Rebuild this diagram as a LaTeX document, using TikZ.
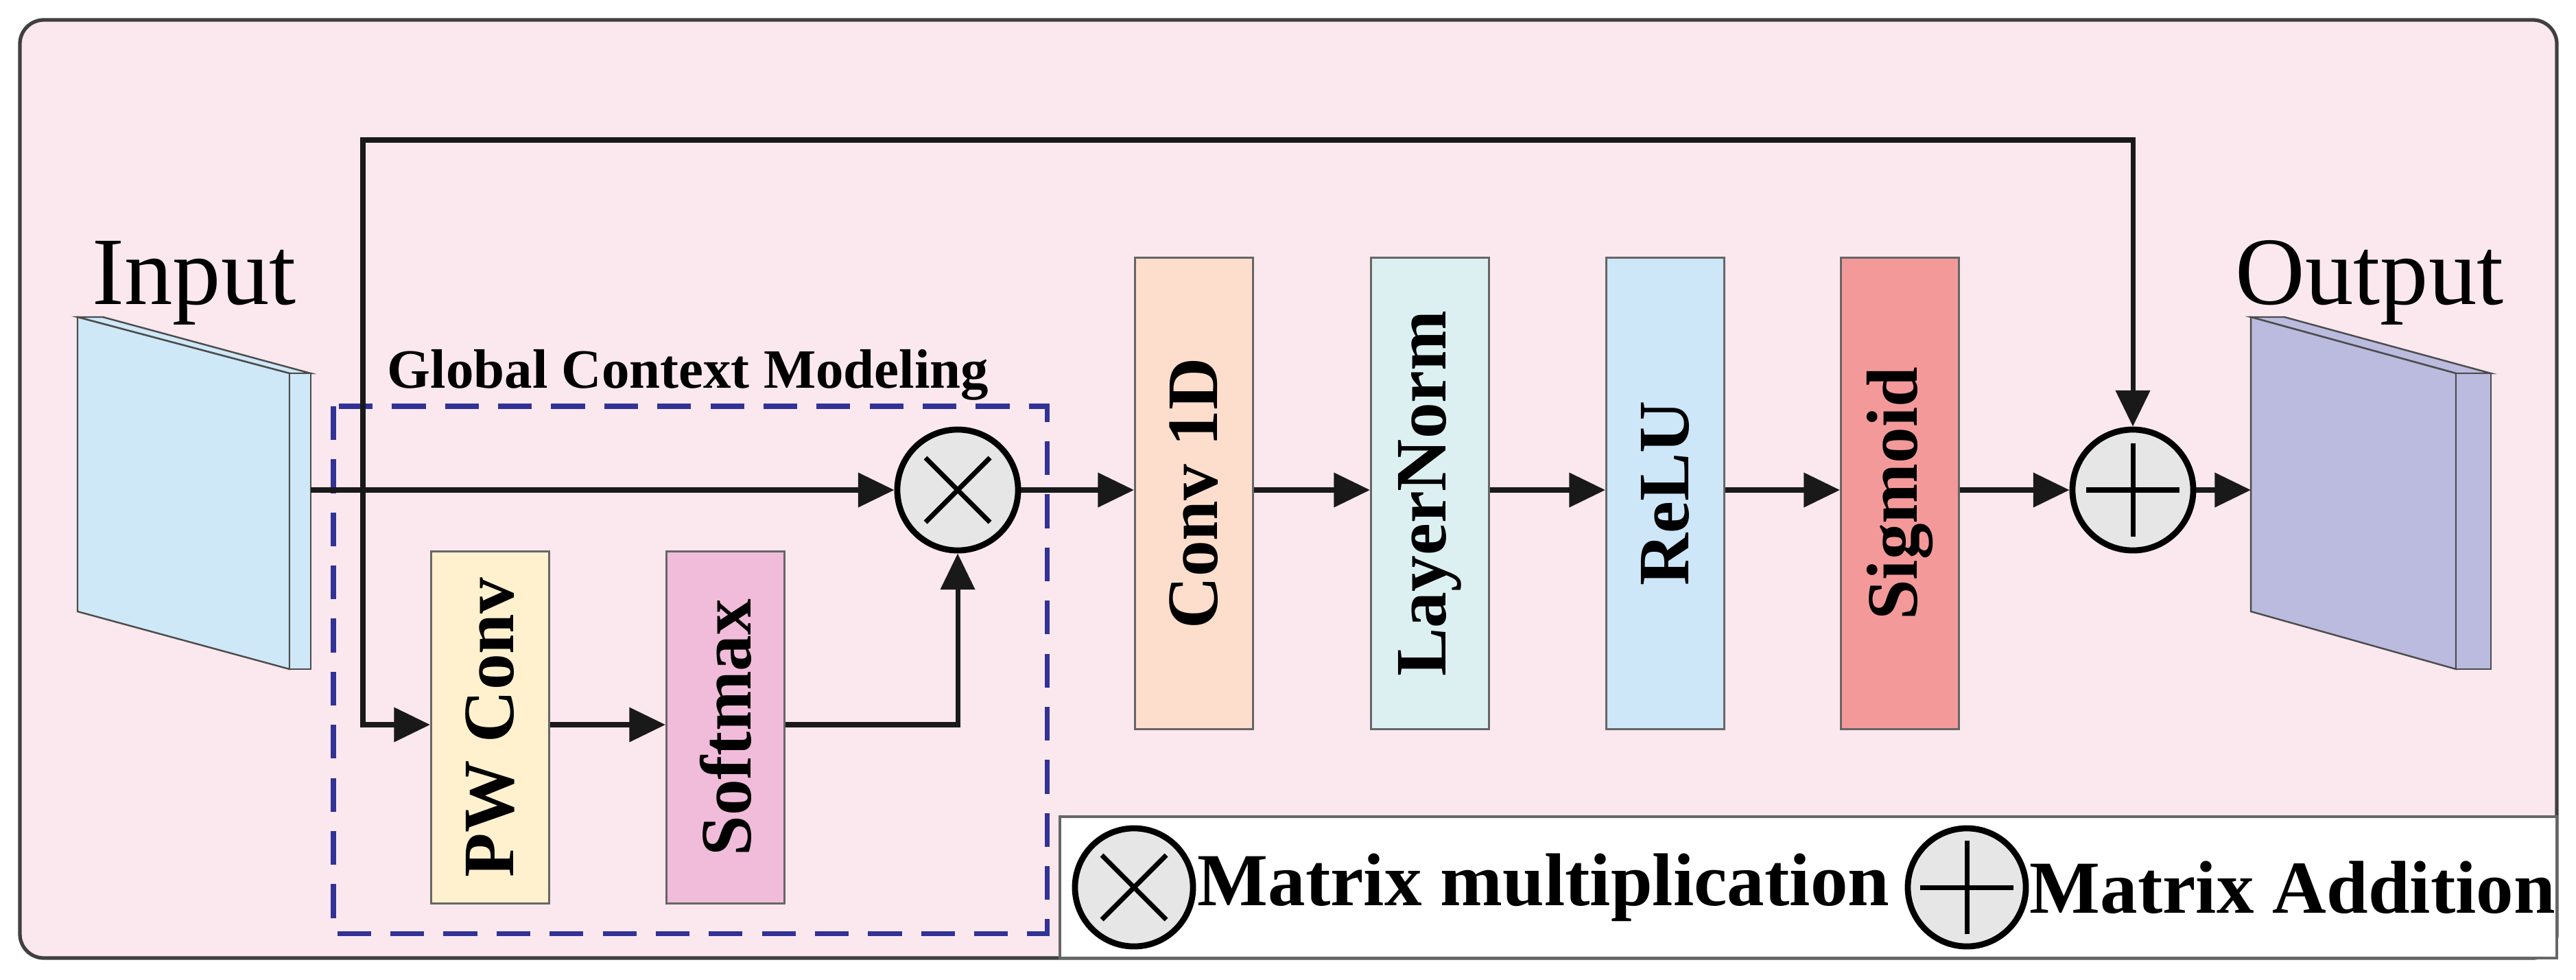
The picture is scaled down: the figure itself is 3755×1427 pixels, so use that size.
\documentclass[tikz,border=0pt]{standalone}
\usepackage{fontspec}
\setmainfont{Liberation Serif}
\usetikzlibrary{arrows.meta,calc}
\definecolor{bgpink}{RGB}{250,232,238}
\definecolor{inblue}{RGB}{207,232,247}
\definecolor{outblue}{RGB}{186,187,222}
\definecolor{dashblue}{RGB}{50,50,150}
\definecolor{cyel}{RGB}{255,241,206}
\definecolor{cpink}{RGB}{240,188,218}
\definecolor{cpeach}{RGB}{253,222,205}
\definecolor{ccyan}{RGB}{220,240,242}
\definecolor{cblue}{RGB}{205,230,248}
\definecolor{cred}{RGB}{244,153,153}
\definecolor{opgray}{RGB}{230,230,230}
\tikzset{
  blk/.style={draw=black!60, line width=0.8pt, minimum width=1.72cm, anchor=north west, inner sep=0pt},
  lbl/.style={rotate=90, font=\fontsize{30}{32}\selectfont\bfseries},
  op/.style={circle, draw=black, line width=2.5pt, fill=opgray, minimum size=1.76cm, inner sep=0pt},
  conn/.style={line width=2pt, black!90, -{Triangle[length=15pt,width=14pt]}},
  legtxt/.style={font=\fontsize{31}{34}\selectfont\bfseries, anchor=west, inner sep=0pt},
}
\newcommand{\mytimes}[1]{\draw[line width=2pt] ($(#1)+(-47,-47)$) -- ($(#1)+(47,47)$) ($(#1)+(-47,47)$) -- ($(#1)+(47,-47)$);}
\newcommand{\myplus}[2]{\draw[line width=2pt] ($(#1)+(-#2,0)$) -- ($(#1)+(#2,0)$) ($(#1)+(0,-#2)$) -- ($(#1)+(0,#2)$);}
\begin{document}
\begin{tikzpicture}[x=0.01cm,y=-0.01cm]
\useasboundingbox (0,0) rectangle (3755,1427);
% frame
\draw[fill=bgpink, draw=black!75, line width=1.5pt, rounded corners=0.35cm] (29,29) rectangle (3727,1396);
% legend box
\draw[fill=white, draw=black!60, line width=1pt] (1545,1190) rectangle (3727,1396);
% input slab
\draw[fill=inblue, draw=black!70, line width=0.7pt] (113,462) -- (150,462) -- (453,544) -- (422,544) -- cycle;
\draw[fill=inblue, draw=black!70, line width=0.7pt] (113,462) -- (422,544) -- (422,975) -- (113,891) -- cycle;
\draw[fill=inblue, draw=black!70, line width=0.7pt] (422,544) rectangle (453,975);
\coordinate (inR) at (453,714);
\node[font=\fontsize{40}{44}\selectfont, anchor=base] (inlbl) at (283,443) {Input};
% output slab
\draw[fill=outblue, draw=black!70, line width=0.7pt] (3281,462) -- (3330,462) -- (3631,544) -- (3580,544) -- cycle;
\draw[fill=outblue, draw=black!70, line width=0.7pt] (3281,462) -- (3580,544) -- (3580,975) -- (3281,891) -- cycle;
\draw[fill=outblue, draw=black!70, line width=0.7pt] (3580,544) rectangle (3631,975);
\coordinate (outL) at (3281,714);
\node[font=\fontsize{40}{44}\selectfont, anchor=base] (outlbl) at (3454,443) {Output};
% dashed GCM box
\draw[dashblue, line width=2pt, dash pattern=on 14pt off 8pt] (486,592) rectangle (1526,1360);
\node[font=\fontsize{23}{26}\selectfont\bfseries] (gcm) at (1003,546) {Global Context Modeling};
% blocks
\node[blk, fill=cyel, minimum height=5.13cm] (pw) at (627,802) {};
\node[lbl] at (pw.center) {PW Conv};
\node[blk, fill=cpink, minimum height=5.13cm] (sm) at (970,802) {};
\node[lbl] at (sm.center) {Softmax};
\node[blk, fill=cpeach, minimum height=6.87cm] (c1) at (1653,374) {};
\node[lbl] at (c1.center) {Conv 1D};
\node[blk, fill=ccyan, minimum height=6.87cm] (ln) at (1997,374) {};
\node[lbl] at (ln.center) {LayerNorm};
\node[blk, fill=cblue, minimum height=6.87cm] (re) at (2340,374) {};
\node[lbl] at (re.center) {ReLU};
\node[blk, fill=cred, minimum height=6.87cm] (sg) at (2682,374) {};
\node[lbl] at (sg.center) {Sigmoid};
% operators
\node[op] (mul) at (1396,714) {};
\mytimes{mul}
\node[op] (add) at (3109,714) {};
\myplus{add}{68}
% connectors
\coordinate (tl) at (529,204);
\coordinate (tr) at (3109,204);
\coordinate (bl) at (529,1056);
\coordinate (sr) at (1396,1056);
\draw[conn] (inR) -- (mul.west);
\draw[conn] (inR -| tl) -- (tl) -- (tr) -- (add.north);
\draw[conn] (inR -| tl) -- (bl) -- (pw.west |- bl);
\draw[conn] (pw.east |- bl) -- (sm.west |- bl);
\draw[conn] (sm.east |- sr) -- (sr) -- (mul.south);
\draw[conn] (mul.east) -- (c1.west |- mul);
\draw[conn] (c1.east |- mul) -- (ln.west |- mul);
\draw[conn] (ln.east |- mul) -- (re.west |- mul);
\draw[conn] (re.east |- mul) -- (sg.west |- mul);
\draw[conn] (sg.east |- add) -- (add.west);
\draw[conn] (add.east) -- (outL);
% legend
\node[op, minimum size=1.72cm] (lmul) at (1653,1293) {};
\mytimes{lmul}
\node[legtxt] (lmt) at (1745,1293) {Matrix multiplication};
\node[op, minimum size=1.72cm] (ladd) at (2867,1293) {};
\myplus{ladd}{68}
\node[legtxt] (lat) at (2958,1293) {Matrix Addition};
\end{tikzpicture}
\end{document}
